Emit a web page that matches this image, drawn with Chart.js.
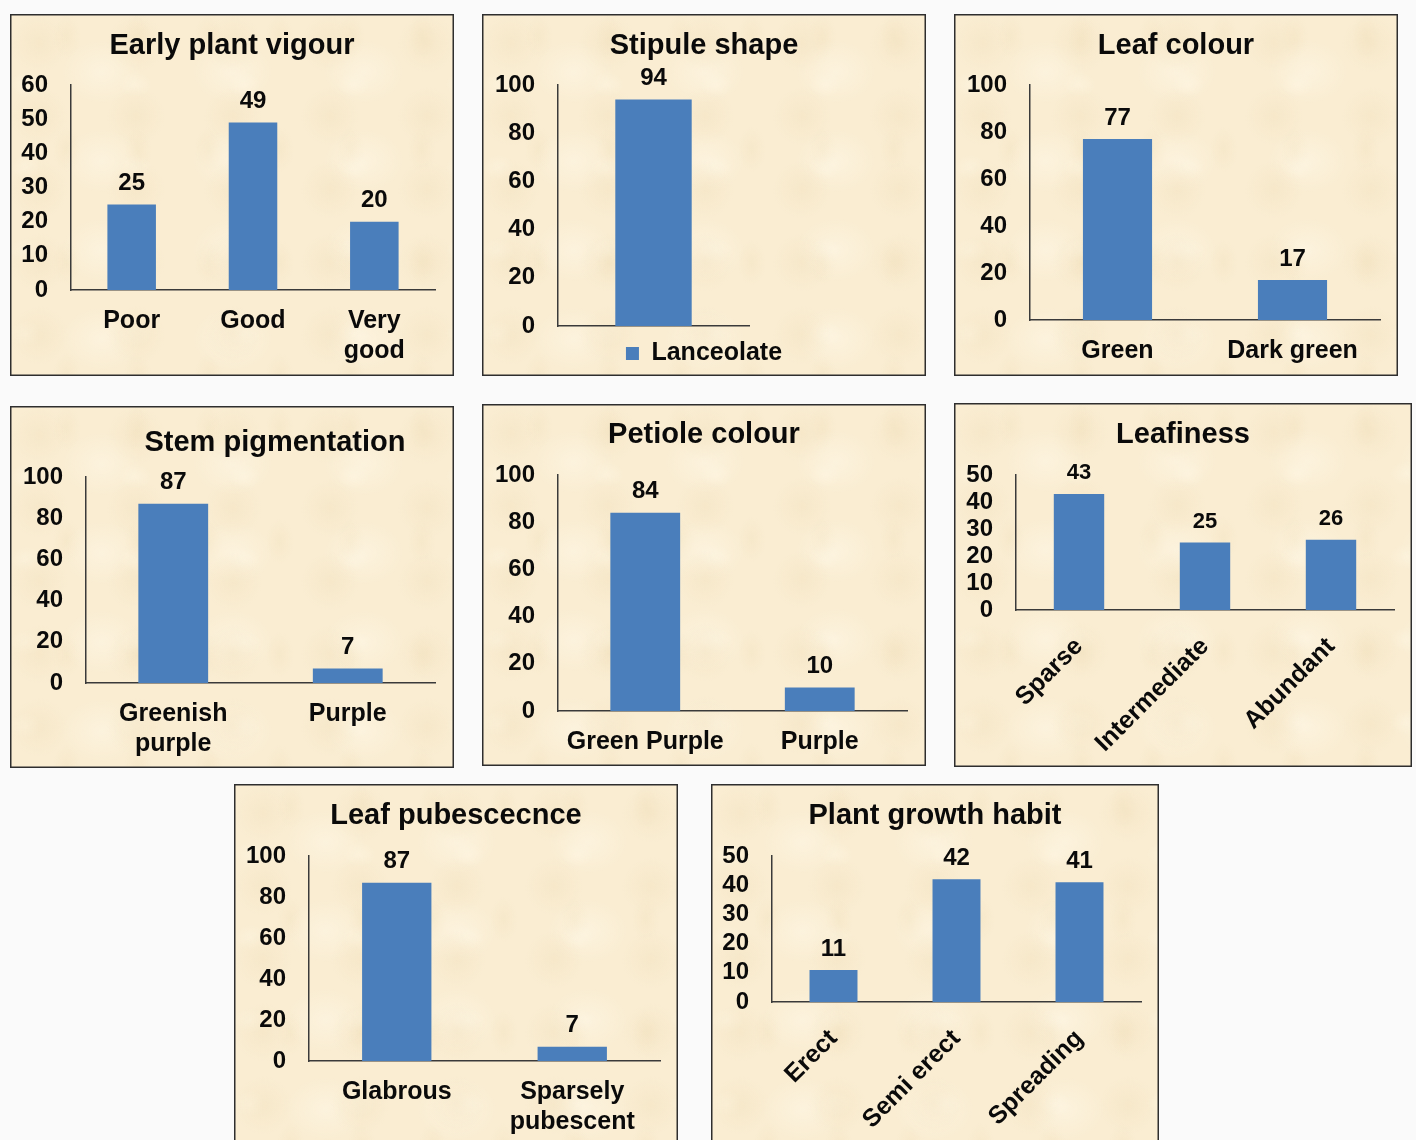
<!DOCTYPE html>
<html>
<head>
<meta charset="utf-8">
<title>Plant trait frequencies</title>
<script src="https://cdn.jsdelivr.net/npm/chart.js@4.4.1/dist/chart.umd.min.js"></script>
<style>
  html, body {
    margin: 0; padding: 0;
    width: 1416px; height: 1140px; overflow: hidden;
    background: #fafafa;
    font-family: "Liberation Sans", Arial, Helvetica, sans-serif;
  }
  .panel {
    position: absolute;
    box-sizing: border-box;
    background-color: #faedd2;
    background-image:
      radial-gradient(closest-side at 30% 40%, rgba(240,222,186,.35), rgba(240,222,186,0)),
      radial-gradient(closest-side at 70% 65%, rgba(255,249,234,.45), rgba(255,249,234,0)),
      radial-gradient(closest-side at 80% 20%, rgba(238,220,182,.28), rgba(238,220,182,0)),
      radial-gradient(closest-side at 15% 85%, rgba(255,248,230,.4), rgba(255,248,230,0));
    background-size: 97px 73px, 131px 89px, 71px 113px, 109px 83px;
    box-shadow: inset 0 0 0 1.5px #2e2e2e;
  }
  .panel canvas { position: absolute; left: 0; top: 0; }
  .panel h2 {
    position: absolute; margin: 0;
    font-size: 29px; font-weight: bold; line-height: 32px;
    white-space: nowrap; color: #0a0a0a;
    transform: translateX(-50%);
  }
</style>
</head>
<body>
<div id="board"></div>
<script>
// ---- data ----
const vigourCategories = ['Poor', 'Good', ['Very', 'good']];
const vigourValues = [25, 49, 20];

const stipuleCategories = ['Lanceolate'];
const stipuleValues = [94];

const leafColourCategories = ['Green', 'Dark green'];
const leafColourValues = [77, 17];

const stemCategories = [['Greenish', 'purple'], 'Purple'];
const stemValues = [87, 7];

const petioleCategories = ['Green Purple', 'Purple'];
const petioleValues = [84, 10];

const leafinessCategories = ['Sparse', 'Intermediate', 'Abundant'];
const leafinessValues = [43, 25, 26];

const pubescenceCategories = ['Glabrous', ['Sparsely', 'pubescent']];
const pubescenceValues = [87, 7];

const habitCategories = ['Erect', 'Semi erect', 'Spreading'];
const habitValues = [11, 42, 41];

// ---- styling ----
const BAR = '#4a7ebb';
const INK = '#0a0a0a';
const AXIS = '#3a3a3a';
const FONT = '"Liberation Sans", Arial, Helvetica, sans-serif';

// Numbers printed above each bar
const valueLabels = {
  id: 'valueLabels',
  afterDatasetsDraw(chart, args, opts) {
    const ctx = chart.ctx;
    chart.data.datasets.forEach((ds, di) => {
      const meta = chart.getDatasetMeta(di);
      meta.data.forEach((bar, i) => {
        ctx.save();
        ctx.font = 'bold ' + (opts.size || 24) + 'px ' + FONT;
        ctx.fillStyle = INK;
        ctx.textAlign = 'center';
        ctx.textBaseline = 'middle';
        ctx.fillText(String(ds.data[i]), bar.x, bar.y - (opts.offset || 21));
        ctx.restore();
      });
    });
  }
};

// Panel frames (box) and plot areas (plot) in page pixels: [left, top, right, bottom]
const panels = [
  { title: 'Early plant vigour', cats: vigourCategories, vals: vigourValues, yMax: 60, yStep: 10,
    box: [10, 14, 454, 376], plot: [71, 85, 435, 290], titleAt: [232, 44], bar: 0.40 },
  { title: 'Stipule shape', cats: stipuleCategories, vals: stipuleValues, yMax: 100, yStep: 20,
    box: [482, 14, 926, 376], plot: [558, 85, 749, 326], titleAt: [704, 44], bar: 0.40,
    legend: true, series: 'Lanceolate', hideCats: true },
  { title: 'Leaf colour', cats: leafColourCategories, vals: leafColourValues, yMax: 100, yStep: 20,
    box: [954, 14, 1398, 376], plot: [1030, 85, 1380, 320], titleAt: [1176, 44], bar: 0.395 },
  { title: 'Stem pigmentation', cats: stemCategories, vals: stemValues, yMax: 100, yStep: 20,
    box: [10, 406, 454, 768], plot: [86, 477, 435, 683], titleAt: [275, 441], bar: 0.40 },
  { title: 'Petiole colour', cats: petioleCategories, vals: petioleValues, yMax: 100, yStep: 20,
    box: [482, 404, 926, 766], plot: [558, 475, 907, 711], titleAt: [704, 433], bar: 0.40 },
  { title: 'Leafiness', cats: leafinessCategories, vals: leafinessValues, yMax: 50, yStep: 10,
    box: [954, 403, 1412, 767], plot: [1016, 475, 1394, 610], titleAt: [1183, 433], bar: 0.40,
    rotate: 45, valueSize: 22 },
  { title: 'Leaf pubescecnce', cats: pubescenceCategories, vals: pubescenceValues, yMax: 100, yStep: 20,
    box: [234, 784, 678, 1152], plot: [309, 856, 660, 1061], titleAt: [456, 814], bar: 0.395 },
  { title: 'Plant growth habit', cats: habitCategories, vals: habitValues, yMax: 50, yStep: 10,
    box: [711, 784, 1159, 1152], plot: [772, 856, 1141, 1002], titleAt: [935, 814], bar: 0.39,
    rotate: 45 }
];

const board = document.getElementById('board');

function buildPanel(p) {
  const [bl, bt, br, bb] = p.box;
  const [pl, pt, pr, pb] = p.plot;
  const w = br - bl, h = bb - bt;

  const frame = document.createElement('div');
  frame.className = 'panel';
  Object.assign(frame.style, { left: bl + 'px', top: bt + 'px', width: w + 'px', height: h + 'px' });

  const canvas = document.createElement('canvas');
  canvas.width = w; canvas.height = h;
  canvas.style.width = w + 'px'; canvas.style.height = h + 'px';

  const heading = document.createElement('h2');
  heading.textContent = p.title;
  heading.style.left = (p.titleAt[0] - bl) + 'px';
  heading.style.top = (p.titleAt[1] - bt - 16) + 'px';

  frame.appendChild(canvas);
  frame.appendChild(heading);
  board.appendChild(frame);

  const yAxisWidth = pl - bl;
  const belowPlot = bb - pb;
  const rightGap = br - pr;
  const rot = p.rotate || 0;

  new Chart(canvas, {
    type: 'bar',
    data: {
      labels: p.cats,
      datasets: [{
        label: p.series || p.title,
        data: p.vals,
        backgroundColor: BAR,
        borderWidth: 0,
        barPercentage: p.bar,
        categoryPercentage: 1
      }]
    },
    options: {
      responsive: false,
      animation: false,
      devicePixelRatio: 1,
      layout: { autoPadding: false, padding: { left: 0, top: pt - bt, right: 0, bottom: 0 } },
      plugins: {
        legend: {
          display: !!p.legend,
          position: 'bottom',
          labels: {
            boxWidth: 13, boxHeight: 13, padding: 9, color: INK,
            font: { family: FONT, size: 25, weight: 'bold' }
          }
        },
        tooltip: { enabled: false },
        valueLabels: { size: p.valueSize || 24, offset: 21 }
      },
      scales: {
        x: {
          grid: { display: false, drawTicks: false },
          border: { color: AXIS, width: 1.5 },
          ticks: {
            display: !p.hideCats,
            color: INK,
            autoSkip: false,
            minRotation: rot, maxRotation: rot,
            padding: rot ? 22 : 16,
            font: { family: FONT, size: 25, weight: 'bold', lineHeight: 1.2 }
          },
          afterFit: s => {
            const lg = s.chart.legend;
            s.height = belowPlot - ((lg && lg.height) || 0);
          }
        },
        y: {
          min: 0, max: p.yMax,
          grid: { display: false, drawTicks: false },
          border: { color: AXIS, width: 1.5 },
          ticks: {
            stepSize: p.yStep, autoSkip: false, padding: 23, color: INK,
            font: { family: FONT, size: 24, weight: 'bold' }
          },
          afterFit: s => { s.width = yAxisWidth; }
        },
        // empty strip that keeps the plot clear of the frame's right side
        gap: {
          type: 'linear', position: 'right',
          grid: { display: false, drawTicks: false },
          border: { display: false },
          ticks: { display: false },
          afterFit: s => { s.width = rightGap; }
        }
      }
    },
    plugins: [valueLabels]
  });
}

panels.forEach(buildPanel);
</script>
</body>
</html>
